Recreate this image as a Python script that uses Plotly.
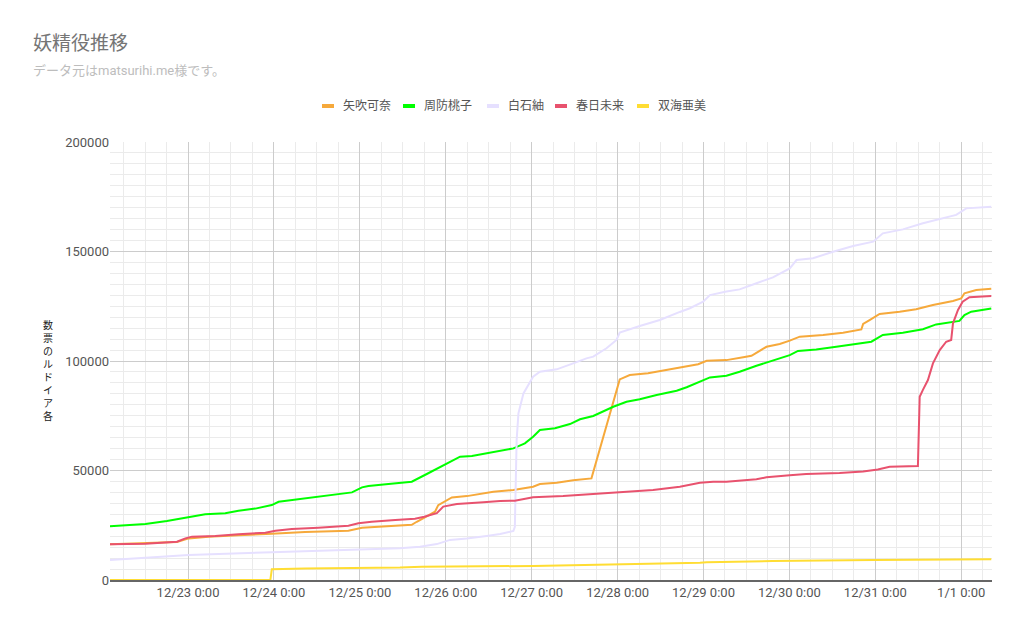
import pandas as pd
import plotly.graph_objects as go

# 経過時間 (2019/12/23 0:00 からの時間) と票数
kana_h = [-21.8, -11.9, -3.1, 0.2, 5.7, 14.1, 20.7, 23.4, 32.7, 44.8, 48.6, 56.0, 62.5, 63.9, 66.0,
          69.0, 69.9, 73.7, 77.9, 83.4, 85.3, 90.9, 96.4, 98.3, 103.0, 107.6, 112.7, 120.6, 123.4,
          128.5, 132.7, 138.3, 142.5, 144.9, 150.4, 155.1, 157.4, 161.6, 165.3, 168.1, 170.9, 177.4,
          183.0, 188.1, 188.6, 190.4, 193.2, 198.8, 203.4, 208.1, 213.7, 216.0, 216.9, 220.2, 224.4]
kana_v = [16300, 16700, 17300, 19000, 19800, 20400, 20700, 21100, 21900, 22500, 23900, 24700, 25200,
          26600, 28600, 31200, 34200, 37700, 38300, 39600, 40300, 41100, 42600, 43800, 44400, 45600,
          46400, 91600, 93600, 94400, 95600, 97100, 98500, 100100, 100400, 101700, 102400, 106500,
          107800, 109300, 111100, 111900, 112900, 114400, 116900, 118700, 121500, 122500, 123600,
          125600, 127400, 128600, 130900, 132400, 133000]

momoko_h = [-21.8, -11.9, -5.9, -0.3, 4.8, 10.4, 14.1, 18.8, 23.4, 25.3, 29.0, 34.6, 40.2, 45.8, 48.6,
            50.4, 56.0, 62.5, 66.7, 70.4, 76.0, 79.3, 83.4, 88.1, 90.9, 94.1, 96.4, 98.3, 102.5, 106.7,
            109.5, 113.2, 118.8, 122.5, 126.2, 130.9, 136.5, 139.3, 143.0, 145.8, 150.4, 154.1, 158.8,
            163.4, 168.1, 170.4, 175.5, 181.1, 186.7, 190.9, 194.1, 199.7, 205.3, 209.0, 215.5, 216.9,
            218.8, 224.4]
momoko_v = [24500, 25600, 26900, 28600, 30000, 30500, 31600, 32600, 34200, 35700, 36500, 37600, 38800,
            40000, 42300, 42900, 43800, 44900, 48400, 51700, 56300, 56600, 57900, 59400, 60100, 62400,
            65400, 68500, 69300, 71200, 73400, 74900, 79100, 81400, 82500, 84500, 86400, 88000, 90500,
            92500, 93300, 95100, 97800, 100100, 102700, 104600, 105300, 106500, 107800, 108800, 111900,
            112900, 114500, 116700, 118300, 121000, 122500, 124000]

tsumugi_h = [-21.8, -13.8, 0.2, 23.4, 46.7, 59.2, 64.8, 69.5, 73.2, 77.9, 83.4, 87.2, 90.9, 91.3, 91.8,
             92.3, 93.7, 96.4, 98.3, 103.0, 107.6, 111.3, 113.2, 116.9, 119.7, 120.6, 126.2, 131.8,
             137.4, 140.2, 143.9, 145.8, 150.4, 154.1, 158.8, 163.4, 168.1, 170.0, 174.6, 180.2, 185.8,
             191.4, 194.1, 199.7, 205.3, 210.9, 214.6, 217.4, 224.4]
tsumugi_v = [9100, 9900, 11400, 12700, 13700, 14500, 15200, 16400, 18300, 18900, 20100, 21000, 22400,
             24300, 63900, 76100, 85200, 92800, 95100, 96200, 98900, 101200, 102000, 105800, 109600,
             113000, 116000, 118700, 122400, 124100, 127100, 130100, 131700, 132700, 135500, 138200,
             142300, 146100, 146900, 149900, 152500, 154500, 158300, 160100, 162900, 165200, 166700,
             169700, 170400]

mirai_h = [-21.8, -11.9, -3.1, -0.75, 1.1, 7.6, 14.1, 21.6, 24.4, 29.0, 36.4, 44.8, 47.6, 51.3, 57.9,
           63.4, 66.0, 66.7, 69.5, 71.3, 75.1, 82.5, 87.2, 91.3, 96.4, 104.8, 114.1, 120.6, 129.9,
           137.4, 143.0, 146.7, 150.4, 158.8, 161.6, 168.1, 172.7, 182.0, 188.6, 192.7, 196.0, 203.9,
           204.4, 205.3, 206.7, 208.1, 210.0, 211.8, 213.2, 213.7, 215.1, 216.4, 218.3, 224.4]
mirai_v = [16300, 16600, 17500, 19000, 19800, 20100, 20900, 21600, 22500, 23300, 23900, 24800, 25900,
           26600, 27400, 28000, 28900, 29200, 30500, 33500, 34700, 35500, 36100, 36200, 37800, 38300,
           39400, 40300, 41100, 42600, 44400, 44900, 44900, 46000, 46900, 47800, 48400, 48900, 49500,
           50500, 51700, 52000, 83700, 86800, 91300, 98900, 105000, 108800, 109600, 117200, 123300,
           127100, 129100, 129700]

ami_h = [-21.8, 23.0, 23.4, 32.7, 59.2, 65.3, 96.4, 113.2, 143.0, 144.9, 163.4, 191.4, 224.4]
ami_v = [0, 0, 4900, 5200, 5700, 6100, 6400, 6850, 7900, 8100, 8700, 9100, 9500]

names = ["矢吹可奈", "周防桃子", "白石紬", "春日未来", "双海亜美"]
colors = ["#f6a93b", "#00ff00", "#e6e0ff", "#e8526e", "#ffdd33"]
series = [(kana_h, kana_v), (momoko_h, momoko_v), (tsumugi_h, tsumugi_v),
          (mirai_h, mirai_v), (ami_h, ami_v)]

base = pd.Timestamp("2019-12-23 00:00")
font = "Roboto, 'Noto Sans CJK JP', sans-serif"

fig = go.Figure()
for name, color, (h, v) in zip(names, colors, series):
    t = base + pd.to_timedelta(h, unit="h")
    fig.add_trace(go.Scatter(x=t, y=v, mode="lines", name=name,
                             line=dict(color=color, width=2), showlegend=False))

W, H = 1024, 633
L, R, T, B = 110, 32, 142, 53
pw, ph = W - L - R, H - T - B


# ピクセル位置 -> paper座標
def px(x):
    return (x - L) / pw


def py(y):
    return (H - B - y) / ph


# 凡例 (Google Charts風)
legend_x = [322, 403, 487, 555, 637]
for x0, name, color in zip(legend_x, names, colors):
    fig.add_shape(type="line", xref="paper", yref="paper",
                  x0=px(x0), x1=px(x0 + 12), y0=py(106), y1=py(106),
                  line=dict(color=color, width=4))
    fig.add_annotation(x=px(x0 + 19), y=py(106), xref="paper", yref="paper",
                       text=name, showarrow=False, xanchor="left", yanchor="middle",
                       font=dict(size=12, color="#555555"))

# 縦軸タイトル (一文字ずつ縦に)
ylabel = "数票のルドイア各"
fig.add_annotation(x=px(48), y=py(370), xref="paper", yref="paper",
                   text="<br>".join(ylabel), showarrow=False,
                   xanchor="center", yanchor="middle",
                   font=dict(size=10, color="#222222"))

# タイトル
fig.add_annotation(x=px(31), y=py(43), xref="paper", yref="paper", text="妖精役推移",
                   showarrow=False, xanchor="left", yanchor="middle",
                   font=dict(size=19, color="#757575"))
fig.add_annotation(x=px(31), y=py(70), xref="paper", yref="paper",
                   text="データ元はmatsurihi.me様です。",
                   showarrow=False, xanchor="left", yanchor="middle",
                   font=dict(size=13, color="#bdbdbd"))

fig.update_layout(
    width=W, height=H,
    margin=dict(l=L, r=R, t=T, b=B),
    plot_bgcolor="white", paper_bgcolor="white",
    font=dict(family=font, size=13, color="#444444"),
    xaxis=dict(
        type="date",
        range=[base + pd.Timedelta(hours=-21.8), base + pd.Timedelta(hours=224.6)],
        tick0=base, dtick=86400000, tickformat="%-m/%-d %-H:%M",
        showgrid=True, gridcolor="#cccccc", gridwidth=1,
        minor=dict(dtick=6 * 3600000, showgrid=True, gridcolor="#ebebeb"),
        showline=True, linecolor="#666666", linewidth=1.5, layer="below traces",
        zeroline=False, ticks="", tickfont=dict(size=13, color="#555555"),
    ),
    yaxis=dict(
        range=[0, 200000], dtick=50000, tickformat="d",
        showgrid=True, gridcolor="#cccccc", gridwidth=1,
        minor=dict(dtick=5000, showgrid=True, gridcolor="#ebebeb"),
        zeroline=False, ticks="", tickfont=dict(size=13, color="#555555"),
    ),
    showlegend=False,
)

# bodyの余白をなくす
fig.write_html("out.html", config={"displayModeBar": False},
               post_script="document.body.style.margin='0px';")
